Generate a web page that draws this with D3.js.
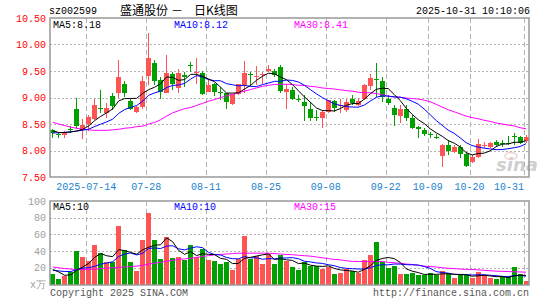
<!DOCTYPE html>
<html>
<head>
<meta charset="utf-8">
<script src="https://cdn.jsdelivr.net/npm/d3@7"></script>
<style>
  html, body { margin: 0; padding: 0; background: #fff; }
  svg { display: block; font-family: "Liberation Mono", "DejaVu Sans Mono", monospace; font-size: 10px; }
</style>
</head>
<body>
<svg id="chart" width="545" height="300"></svg>
<script>
// trading days 2025-07-04 .. 2025-10-31
var dates = [
  "07-04","07-07","07-08","07-09","07-10","07-11","07-14","07-15","07-16","07-17",
  "07-18","07-21","07-22","07-23","07-24","07-25","07-28","07-29","07-30","07-31",
  "08-01","08-04","08-05","08-06","08-07","08-08","08-11","08-12","08-13","08-14",
  "08-15","08-18","08-19","08-20","08-21","08-22","08-25","08-26","08-27","08-28",
  "08-29","09-01","09-02","09-03","09-04","09-05","09-08","09-09","09-10","09-11",
  "09-12","09-15","09-16","09-17","09-18","09-19","09-22","09-23","09-24","09-25",
  "09-26","09-29","09-30","10-09","10-10","10-13","10-14","10-15","10-16","10-17",
  "10-20","10-21","10-22","10-23","10-24","10-27","10-28","10-29","10-30","10-31"
];

var opens = [
  8.39, 8.31, 8.29, 8.40, 8.78, 8.39, 8.50, 8.60, 8.81, 8.71,
  9.02, 9.09, 9.25, 8.93, 8.73, 8.82, 9.41, 9.65, 9.33, 9.09,
  9.45, 9.17, 9.43, 9.61, 9.47, 9.47, 9.11, 9.26, 9.11, 9.08,
  8.87, 9.06, 9.23, 9.44, 9.40, 9.43, 9.50, 9.50, 9.58, 9.11,
  9.14, 8.97, 8.92, 8.79, 8.63, 8.62, 8.73, 8.93, 8.84, 8.76,
  8.97, 8.86, 8.97, 9.22, 9.35, 9.31, 8.97, 8.81, 8.65, 8.79,
  8.61, 8.45, 8.38, 8.32, 8.26, 7.89, 8.11, 7.98, 8.07, 7.94,
  7.78, 7.87, 8.10, 8.07, 8.16, 8.15, 8.15, 8.28, 8.25, 8.17
];
var highs = [
  8.40, 8.35, 8.37, 8.47, 9.00, 8.60, 8.67, 8.98, 9.14, 8.90,
  9.09, 9.70, 9.31, 8.98, 8.84, 9.40, 10.21, 9.70, 9.39, 9.80,
  9.49, 9.53, 9.48, 9.67, 9.74, 9.50, 9.34, 9.27, 9.20, 9.09,
  9.07, 9.26, 9.69, 9.48, 9.59, 9.48, 9.61, 9.54, 9.62, 9.25,
  9.20, 9.04, 9.04, 8.92, 8.77, 8.76, 8.95, 8.95, 8.98, 8.98,
  9.04, 8.99, 9.26, 9.45, 9.65, 9.39, 9.04, 8.86, 8.86, 8.86,
  8.67, 8.46, 8.42, 8.35, 8.31, 8.13, 8.20, 8.10, 8.10, 7.98,
  7.91, 8.21, 8.16, 8.16, 8.20, 8.19, 8.28, 8.33, 8.27, 8.29
];
var lows = [
  8.23, 8.23, 8.23, 8.33, 8.40, 8.22, 8.36, 8.57, 8.71, 8.62,
  8.76, 9.00, 9.01, 8.76, 8.70, 8.79, 9.23, 9.23, 8.98, 9.08,
  9.15, 9.09, 9.20, 9.48, 9.26, 9.04, 9.10, 9.02, 8.96, 8.79,
  8.86, 9.05, 9.08, 9.21, 9.23, 9.25, 9.49, 9.38, 9.09, 8.79,
  8.95, 8.92, 8.56, 8.56, 8.56, 8.43, 8.70, 8.73, 8.71, 8.73,
  8.86, 8.84, 8.95, 9.15, 9.01, 8.92, 8.86, 8.47, 8.52, 8.55,
  8.40, 8.23, 8.27, 8.23, 8.21, 7.69, 7.91, 7.96, 7.85, 7.68,
  7.76, 7.85, 8.04, 8.04, 8.08, 8.06, 8.10, 8.10, 8.12, 8.15
];
var closes = [
  8.33, 8.30, 8.35, 8.39, 8.47, 8.48, 8.63, 8.86, 8.78, 8.81,
  8.84, 9.39, 9.08, 8.79, 8.82, 9.31, 9.74, 9.31, 9.11, 9.47,
  9.26, 9.47, 9.38, 9.60, 9.48, 9.06, 9.23, 9.11, 9.10, 8.92,
  9.06, 9.25, 9.47, 9.43, 9.41, 9.44, 9.54, 9.42, 9.12, 9.16,
  8.98, 8.96, 8.84, 8.62, 8.62, 8.73, 8.95, 8.81, 8.85, 8.92,
  8.90, 8.94, 9.23, 9.36, 9.34, 9.01, 8.90, 8.67, 8.79, 8.62,
  8.43, 8.40, 8.31, 8.29, 8.25, 8.10, 7.99, 8.07, 7.93, 7.71,
  7.88, 8.12, 8.11, 8.14, 8.11, 8.12, 8.14, 8.26, 8.15, 8.25
];
// closes of the 9 sessions before 07-04 (for MA5 / MA10)
var priorCloses = [8.25, 8.28, 8.30, 8.31, 8.31, 8.45, 8.35, 8.34, 8.38];

var ma30Price = [
  8.53, 8.50, 8.47, 8.44, 8.42, 8.40, 8.39, 8.38, 8.38, 8.38,
  8.39, 8.40, 8.42, 8.43, 8.45, 8.46, 8.50, 8.53, 8.58, 8.65,
  8.71, 8.75, 8.79, 8.81, 8.85, 8.89, 8.93, 8.96, 9.00, 9.03,
  9.06, 9.09, 9.12, 9.15, 9.18, 9.21, 9.23, 9.245, 9.25, 9.25,
  9.245, 9.23, 9.23, 9.21, 9.20, 9.18, 9.17, 9.16, 9.145, 9.13,
  9.12, 9.10, 9.09, 9.09, 9.075, 9.05, 9.025, 9.01, 9.005, 8.99,
  8.98, 8.97, 8.95, 8.92, 8.87, 8.82, 8.77, 8.73, 8.69, 8.65,
  8.62, 8.60, 8.57, 8.55, 8.52, 8.50, 8.48, 8.465, 8.43, 8.41
];

// volume, 万手
var volumes = [
  12.3, 6.7, 10.7, 15.0, 40.2, 32.7, 27.9, 47.0, 37.5, 27.0,
  27.3, 70.0, 41.0, 27.0, 16.3, 53.0, 85.5, 53.0, 30.3, 56.6,
  31.5, 33.0, 29.0, 47.0, 33.0, 42.3, 29.0, 27.9, 24.3, 27.0,
  17.1, 30.3, 57.8, 30.3, 34.7, 24.3, 36.3, 24.3, 35.0, 27.9,
  20.7, 17.5, 27.5, 22.3, 22.3, 18.7, 20.7, 12.3, 13.5, 18.7,
  15.6, 13.5, 29.0, 35.0, 50.7, 27.5, 19.5, 22.3, 12.3, 12.3,
  13.5, 11.1, 11.1, 13.5, 11.5, 16.3, 12.3, 7.5, 11.5, 10.9,
  7.5, 14.7, 10.9, 7.5, 6.3, 8.4, 8.4, 20.7, 12.3, 4.3
];
var priorVolumes = [14, 18, 15, 17, 16, 21.7, 30.7, 12, 13.3];

var ma30Vol = [
  21, 20, 19, 18.5, 18, 18, 18, 18.5, 19, 19.5,
  20, 20.5, 21, 21.5, 22, 23, 24.5, 25.5, 26.5, 28,
  29, 30, 30.7, 31.5, 32.5, 33.5, 34.5, 35.5, 36, 36.5,
  37, 37.5, 37.5, 37.5, 37.5, 37.5, 37.5, 37, 36.5, 36,
  35.7, 35, 34.5, 34, 33, 32, 31, 30, 29.5, 28.5,
  27.7, 27.5, 27.5, 27.5, 27.5, 27.5, 26.5, 26, 25.5, 24.5,
  24, 23, 22, 21.5, 21, 20, 19.5, 19, 18.5, 18.2,
  18, 17.5, 17, 16.5, 16, 15.8, 15.5, 15.2, 15, 14.8
];

var priceTicks = [10.5, 10.0, 9.5, 9.0, 8.5, 8.0, 7.5];
var volTicks = [100, 80, 60, 40, 20];
var dateTicks = ["07-14","07-28","08-11","08-25","09-08","09-22","10-09","10-20","10-31"];
var dateTickLabels = ["2025-07-14","07-28","08-11","08-25","09-08","09-22","10-09","10-20","10-31"];
var priceLegend = ["MA5:8.18", "MA10:8.12", "MA30:8.41"];
var volLegend = ["MA5:10", "MA10:10", "MA30:15"];
var maColors = ["#000000", "#0000ff", "#ff00ff"];

var UP = "#ff5454", DOWN = "#00a000", GRID = "#b4b4b4", FRAME = "#999";

function movingAvg(vals, prior, n) {
  var all = prior.concat(vals);
  return vals.map(function(v, i) {
    var end = i + prior.length + 1;
    return d3.mean(all.slice(end - n, end));
  });
}

var svg = d3.select("#chart");
var left = 50, right = 529;
var pTop = 18, pBot = 177, vTop = 201, vBot = 285;

var x = d3.scaleBand().domain(dates).range([50.3, 529.5]).paddingInner(0).paddingOuter(0);
var y = d3.scaleLinear().domain([7.5, 10.5]).range([pBot, pTop]);
var yv = d3.scaleLinear().domain([0, 100]).range([284.5, vTop]);
var cx = function(d) { return x(d) + 2.5; };

var candles = dates.map(function(d, i) {
  return { date: d, o: opens[i], h: highs[i], l: lows[i], c: closes[i], v: volumes[i] };
});
var colorOf = function(k) { return k.c >= k.o ? UP : DOWN; };

// header
svg.append("text").attr("x", 49).attr("y", 14).text("sz002599");
[["盛通股份", 120], ["－", 171], ["日K线图", 194]].forEach(function(p) {
  svg.append("text").attr("x", p[1]).attr("y", 15)
    .style("font-family", "'Noto Sans CJK SC', sans-serif").style("font-size", "12px")
    .text(p[0]);
});
svg.append("text").attr("x", 530).attr("y", 14).attr("text-anchor", "end").text("2025-10-31 10:10:06");

// grids
var grid = svg.append("g");
grid.selectAll(".hp").data([10.0, 9.5, 9.0, 8.5, 8.0]).enter().append("line")
  .attr("x1", left).attr("x2", right)
  .attr("y1", function(d) { return Math.round(y(d)) + 0.5; })
  .attr("y2", function(d) { return Math.round(y(d)) + 0.5; })
  .attr("stroke", GRID).attr("stroke-dasharray", "2,2");
grid.selectAll(".hv").data([80, 60, 40, 20]).enter().append("line")
  .attr("x1", left).attr("x2", right)
  .attr("y1", function(d) { return Math.round(yv(d)) + 0.5; })
  .attr("y2", function(d) { return Math.round(yv(d)) + 0.5; })
  .attr("stroke", GRID).attr("stroke-dasharray", "2,2");
[[pTop, pBot], [vTop, vBot]].forEach(function(r) {
  grid.append("g").selectAll("line").data(dateTicks).enter().append("line")
    .attr("x1", function(d) { return Math.round(x(d)) + 0.5; })
    .attr("x2", function(d) { return Math.round(x(d)) + 0.5; })
    .attr("y1", r[0]).attr("y2", r[1])
    .attr("stroke", GRID).attr("stroke-dasharray", "5,3");
});

// watermark
var wm = svg.append("g").attr("opacity", 0.5);
wm.append("ellipse").attr("cx", 511).attr("cy", 156).attr("rx", 6).attr("ry", 3.5)
  .attr("fill", "none").attr("stroke", "#e0a0a0").attr("stroke-width", 1.5);
wm.append("text").attr("x", 496).attr("y", 171)
  .style("font-family", "'DejaVu Sans', sans-serif").style("font-size", "18px")
  .style("font-weight", "bold").style("font-style", "italic")
  .attr("fill", "#a0a0a0").text("sina");

// candles
var cg = svg.append("g").attr("shape-rendering", "crispEdges");
cg.selectAll(".wick").data(candles).enter().append("line")
  .attr("x1", function(k) { return Math.round(x(k.date)) + 2.5; })
  .attr("x2", function(k) { return Math.round(x(k.date)) + 2.5; })
  .attr("y1", function(k) { return y(k.h); })
  .attr("y2", function(k) { return y(k.l); })
  .attr("stroke", colorOf);
cg.selectAll(".body").data(candles).enter().append("rect")
  .attr("x", function(k) { return Math.round(x(k.date)); })
  .attr("width", 5)
  .attr("y", function(k) { return y(Math.max(k.o, k.c)); })
  .attr("height", function(k) { return Math.max(1, Math.abs(y(k.o) - y(k.c))); })
  .attr("fill", colorOf);

// volume bars
cg.selectAll(".vol").data(candles).enter().append("rect")
  .attr("x", function(k) { return Math.round(x(k.date)); })
  .attr("width", 5)
  .attr("y", function(k) { return yv(k.v); })
  .attr("height", function(k) { return yv(0) - yv(k.v); })
  .attr("fill", colorOf);

// moving averages
var priceMAs = [movingAvg(closes, priorCloses, 5), movingAvg(closes, priorCloses, 10), ma30Price];
var volMAs = [movingAvg(volumes, priorVolumes, 5), movingAvg(volumes, priorVolumes, 10), ma30Vol];
var linePrice = d3.line().x(function(d, i) { return cx(dates[i]); }).y(function(d) { return y(d); });
var lineVol = d3.line().x(function(d, i) { return cx(dates[i]); }).y(function(d) { return yv(d); });
[2, 1, 0].forEach(function(j) {
  svg.append("path").attr("d", linePrice(priceMAs[j])).attr("fill", "none")
    .attr("stroke", maColors[j]).attr("stroke-width", 1);
  svg.append("path").attr("d", lineVol(volMAs[j])).attr("fill", "none")
    .attr("stroke", maColors[j]).attr("stroke-width", 1);
});

// frames
svg.append("rect").attr("x", left).attr("y", pTop).attr("width", right - left).attr("height", pBot - pTop)
  .attr("fill", "none").attr("stroke", FRAME).attr("stroke-width", 1.5);
svg.append("rect").attr("x", left).attr("y", vTop).attr("width", right - left).attr("height", vBot - vTop)
  .attr("fill", "none").attr("stroke", FRAME).attr("stroke-width", 1.5);

// legends
var legX = [53, 174, 294];
priceLegend.forEach(function(t, j) {
  svg.append("text").attr("x", legX[j]).attr("y", 28).attr("fill", maColors[j]).text(t);
});
volLegend.forEach(function(t, j) {
  svg.append("text").attr("x", legX[j]).attr("y", 210).attr("fill", maColors[j]).text(t);
});

// axes labels
svg.append("g").selectAll("text").data(priceTicks).enter().append("text")
  .attr("x", 46).attr("y", function(d) { return y(d); }).attr("dy", "0.35em")
  .attr("text-anchor", "end").attr("fill", "#ff0000")
  .text(function(d) { return d.toFixed(2); });
svg.append("g").selectAll("text").data(volTicks).enter().append("text")
  .attr("x", 46).attr("y", function(d) { return yv(d); }).attr("dy", "0.35em")
  .attr("text-anchor", "end").attr("fill", "#a0a0a0")
  .text(function(d) { return d; });
svg.append("text").attr("x", 46).attr("y", yv(0)).attr("dy", "0.35em")
  .attr("text-anchor", "end").attr("fill", "#a0a0a0").text("x万");
// date labels centred on their gridline, the last one kept inside the frame
svg.append("g").selectAll("text").data(dateTicks).enter().append("text")
  .attr("x", function(d) { return Math.min(x(d), right - 20); }).attr("y", 190)
  .attr("text-anchor", "middle").attr("fill", "#1a82d2")
  .text(function(d, i) { return dateTickLabels[i]; });

// footer
svg.append("text").attr("x", 50).attr("y", 296).attr("fill", "#555").text("Copyright 2025 SINA.COM");
svg.append("text").attr("x", 529).attr("y", 296).attr("text-anchor", "end").attr("fill", "#555")
  .text("http://finance.sina.com.cn");
</script>
</body>
</html>
